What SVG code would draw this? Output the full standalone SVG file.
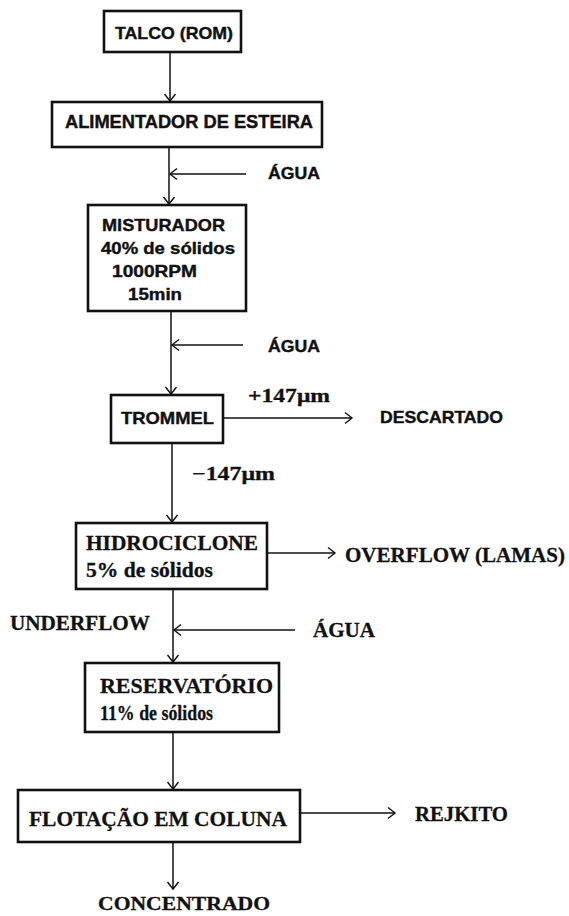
<svg xmlns="http://www.w3.org/2000/svg" width="569" height="916" viewBox="0 0 569 916">
<defs>
<marker id="arr" markerUnits="userSpaceOnUse" markerWidth="16" markerHeight="16" refX="8" refY="8" orient="auto" viewBox="0 0 16 16">
<path d="M1,2.5 L8,8 L1,13.5" fill="none" stroke="#111" stroke-width="1.4"/>
</marker>
<style>
.box{fill:#fff;stroke:#111;stroke-width:2.6}
.ln{fill:none;stroke:#111;stroke-width:1.5;marker-end:url(#arr)}
.sa{font-family:"Liberation Sans",Arial,sans-serif;font-weight:bold;fill:#111;stroke:#111;stroke-width:0.4}
.se{font-family:"Liberation Serif","Times New Roman",serif;font-weight:bold;fill:#111;stroke:#111;stroke-width:0.3}
</style>
</defs>
<rect width="569" height="916" fill="#fff"/>
<g id="connectors">
<line class="ln" x1="170" y1="52" x2="170" y2="101"/>
<line class="ln" x1="169" y1="147" x2="169" y2="204"/>
<line class="ln" x1="246" y1="174" x2="170" y2="174"/>
<line class="ln" x1="171" y1="311" x2="171" y2="394"/>
<line class="ln" x1="243" y1="345" x2="172" y2="345"/>
<line class="ln" x1="172" y1="443" x2="172" y2="522"/>
<line class="ln" x1="223" y1="418" x2="352" y2="418"/>
<line class="ln" x1="267" y1="553" x2="335" y2="553"/>
<line class="ln" x1="173" y1="589" x2="173" y2="662"/>
<line class="ln" x1="295" y1="630" x2="174" y2="630"/>
<line class="ln" x1="173" y1="732" x2="173" y2="789"/>
<line class="ln" x1="300" y1="813" x2="395" y2="813"/>
<line class="ln" x1="173" y1="842" x2="173" y2="889"/>
</g>
<g id="talco">
<rect class="box" x="104" y="11" width="137" height="41"/>
<text class="sa" x="115" y="39" font-size="17" textLength="118" lengthAdjust="spacingAndGlyphs">TALCO (ROM)</text>
</g>
<g id="alimentador">
<rect class="box" x="52" y="102" width="270" height="45"/>
<text class="sa" x="65" y="128" font-size="18" textLength="248" lengthAdjust="spacingAndGlyphs">ALIMENTADOR DE ESTEIRA</text>
</g>
<g id="agua1">
<text class="sa" x="268" y="179" font-size="17" textLength="52" lengthAdjust="spacingAndGlyphs">ÁGUA</text>
</g>
<g id="misturador">
<rect class="box" x="88" y="205" width="158" height="106"/>
<text class="sa" x="102" y="231" font-size="17" textLength="123" lengthAdjust="spacingAndGlyphs">MISTURADOR</text>
<text class="sa" x="101" y="254" font-size="17" textLength="134" lengthAdjust="spacingAndGlyphs">40% de sólidos</text>
<text class="sa" x="112" y="277" font-size="17" textLength="85" lengthAdjust="spacingAndGlyphs">1000RPM</text>
<text class="sa" x="128" y="300" font-size="17" textLength="54" lengthAdjust="spacingAndGlyphs">15min</text>
</g>
<g id="agua2">
<text class="sa" x="268" y="352" font-size="17" textLength="52" lengthAdjust="spacingAndGlyphs">ÁGUA</text>
</g>
<g id="trommel">
<rect class="box" x="111" y="395" width="112" height="48"/>
<text class="sa" x="121" y="424" font-size="17" textLength="93" lengthAdjust="spacingAndGlyphs">TROMMEL</text>
</g>
<g id="mais147">
<text class="se" x="248" y="402" font-size="19" textLength="82" lengthAdjust="spacingAndGlyphs">+147μm</text>
</g>
<g id="descartado">
<text class="sa" x="380" y="423" font-size="17" textLength="123" lengthAdjust="spacingAndGlyphs">DESCARTADO</text>
</g>
<g id="menos147">
<text class="se" x="192" y="480" font-size="19" textLength="83" lengthAdjust="spacingAndGlyphs">−147μm</text>
</g>
<g id="hidrociclone">
<rect class="box" x="76" y="523" width="191" height="66"/>
<text class="se" x="86" y="550" font-size="21" textLength="172" lengthAdjust="spacingAndGlyphs">HIDROCICLONE</text>
<text class="se" x="86" y="577" font-size="21" textLength="127" lengthAdjust="spacingAndGlyphs">5% de sólidos</text>
</g>
<g id="overflow">
<text class="se" x="345" y="562" font-size="21" textLength="220" lengthAdjust="spacingAndGlyphs">OVERFLOW (LAMAS)</text>
</g>
<g id="underflow">
<text class="se" x="10" y="630" font-size="20" textLength="140" lengthAdjust="spacingAndGlyphs">UNDERFLOW</text>
</g>
<g id="agua3">
<text class="se" x="313" y="637" font-size="20" textLength="62" lengthAdjust="spacingAndGlyphs">ÁGUA</text>
</g>
<g id="reservatorio">
<rect class="box" x="85" y="663" width="194" height="69"/>
<text class="se" x="100" y="693" font-size="21" textLength="173" lengthAdjust="spacingAndGlyphs">RESERVATÓRIO</text>
<text class="se" x="100" y="720" font-size="21" textLength="113" lengthAdjust="spacingAndGlyphs">11% de sólidos</text>
</g>
<g id="flotacao">
<rect class="box" x="18" y="790" width="282" height="52"/>
<text class="se" x="29" y="826" font-size="22" textLength="258" lengthAdjust="spacingAndGlyphs">FLOTAÇÃO EM COLUNA</text>
</g>
<g id="rejkito">
<text class="se" x="415" y="821" font-size="21" textLength="93" lengthAdjust="spacingAndGlyphs">REJKITO</text>
</g>
<g id="concentrado">
<text class="se" x="98" y="910" font-size="19" textLength="172" lengthAdjust="spacingAndGlyphs">CONCENTRADO</text>
</g>
</svg>
